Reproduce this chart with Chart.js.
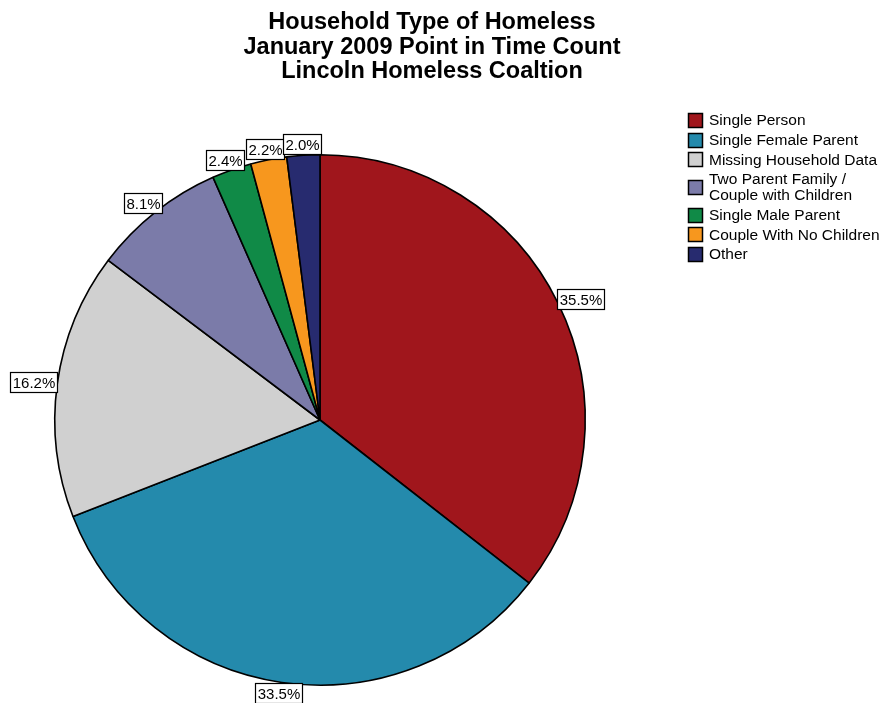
<!DOCTYPE html>
<html>
<head>
<meta charset="utf-8">
<script src="https://cdn.jsdelivr.net/npm/chart.js@4/dist/chart.umd.min.js"></script>
<style>
  html, body { margin: 0; padding: 0; background: #fff; }
  #wrap { width: 884px; height: 703px; }
</style>
</head>
<body>
<div id="wrap"><canvas id="chart" width="884" height="703"></canvas></div>
<script>
// household types, clockwise from 12 o'clock
var categories = ['Single Person', 'Single Female Parent', 'Missing Household Data',
    'Two Parent Family /\nCouple with Children', 'Single Male Parent', 'Couple With No Children', 'Other'];
var percents = [35.5, 33.5, 16.2, 8.1, 2.4, 2.2, 2.0];
var sliceColors = ['#A0161C', '#248AAC', '#D0D0D0', '#7B7BA9', '#108A47', '#F7971E', '#272B6F'];
var titleLines = ['Household Type of Homeless', 'January 2009 Point in Time Count', 'Lincoln Homeless Coaltion'];

var FONT = '"Liberation Sans", Arial, Helvetica, sans-serif';

// title, slice labels and legend are drawn by hand
var extras = {
    id: 'extras',
    afterDraw: function (chart) {
        var ctx = chart.ctx;
        ctx.save();

        // title
        ctx.fillStyle = '#000';
        ctx.font = 'bold 23.5px ' + FONT;
        ctx.textAlign = 'center';
        ctx.textBaseline = 'middle';
        titleLines.forEach(function (t, i) {
            ctx.fillText(t, 432, 23 + i * 24.5);
        });

        // percent labels in boxes just outside each slice
        ctx.font = '15px ' + FONT;
        var arcs = chart.getDatasetMeta(0).data;
        arcs.forEach(function (arc, i) {
            var a = (arc.startAngle + arc.endAngle) / 2;
            var r = arc.outerRadius + 1;
            var px = arc.x + r * Math.cos(a);
            var py = arc.y + r * Math.sin(a);
            var txt = percents[i].toFixed(1) + '%';
            var w = Math.round(ctx.measureText(txt).width + 4);
            var h = 20;
            var cx = px + Math.cos(a) * w / 2;
            var cy = py + Math.sin(a) * h / 2;
            var bx = Math.round(cx - w / 2) + 0.5, by = Math.round(cy - h / 2) + 0.5;
            ctx.fillStyle = '#fff';
            ctx.fillRect(bx, by, w, h);
            ctx.strokeStyle = '#000';
            ctx.lineWidth = 1.2;
            ctx.strokeRect(bx, by, w, h);
            ctx.fillStyle = '#000';
            ctx.textAlign = 'center';
            ctx.textBaseline = 'middle';
            ctx.fillText(txt, bx + w / 2, by + h / 2 + 1);
        });

        // legend
        ctx.font = '15.5px ' + FONT;
        ctx.textAlign = 'left';
        ctx.textBaseline = 'middle';
        ctx.lineWidth = 1.5;
        var y = 121;
        categories.forEach(function (c, i) {
            var lines = c.split('\n');
            var mid = y + (lines.length - 1) * 8 - 1;
            ctx.fillStyle = sliceColors[i];
            ctx.fillRect(688.5, Math.round(mid - 7) + 0.5, 14, 14);
            ctx.strokeStyle = '#000';
            ctx.strokeRect(688.5, Math.round(mid - 7) + 0.5, 14, 14);
            ctx.fillStyle = '#000';
            lines.forEach(function (l, j) {
                ctx.fillText(l, 709, y + j * 16);
            });
            y += (lines.length - 1) * 16 + 19.7;
        });

        ctx.restore();
    }
};

var chart = new Chart(document.getElementById('chart'), {
    type: 'pie',
    data: {
        labels: categories,
        datasets: [{
            data: percents,
            backgroundColor: sliceColors,
            borderColor: '#000',
            borderWidth: 1.6
        }]
    },
    options: {
        responsive: false,
        animation: false,
        layout: { padding: { left: 54, right: 298, top: 154, bottom: 17 } },
        plugins: {
            legend: { display: false },
            title: { display: false },
            tooltip: { enabled: false }
        }
    },
    plugins: [extras]
});
</script>
</body>
</html>
